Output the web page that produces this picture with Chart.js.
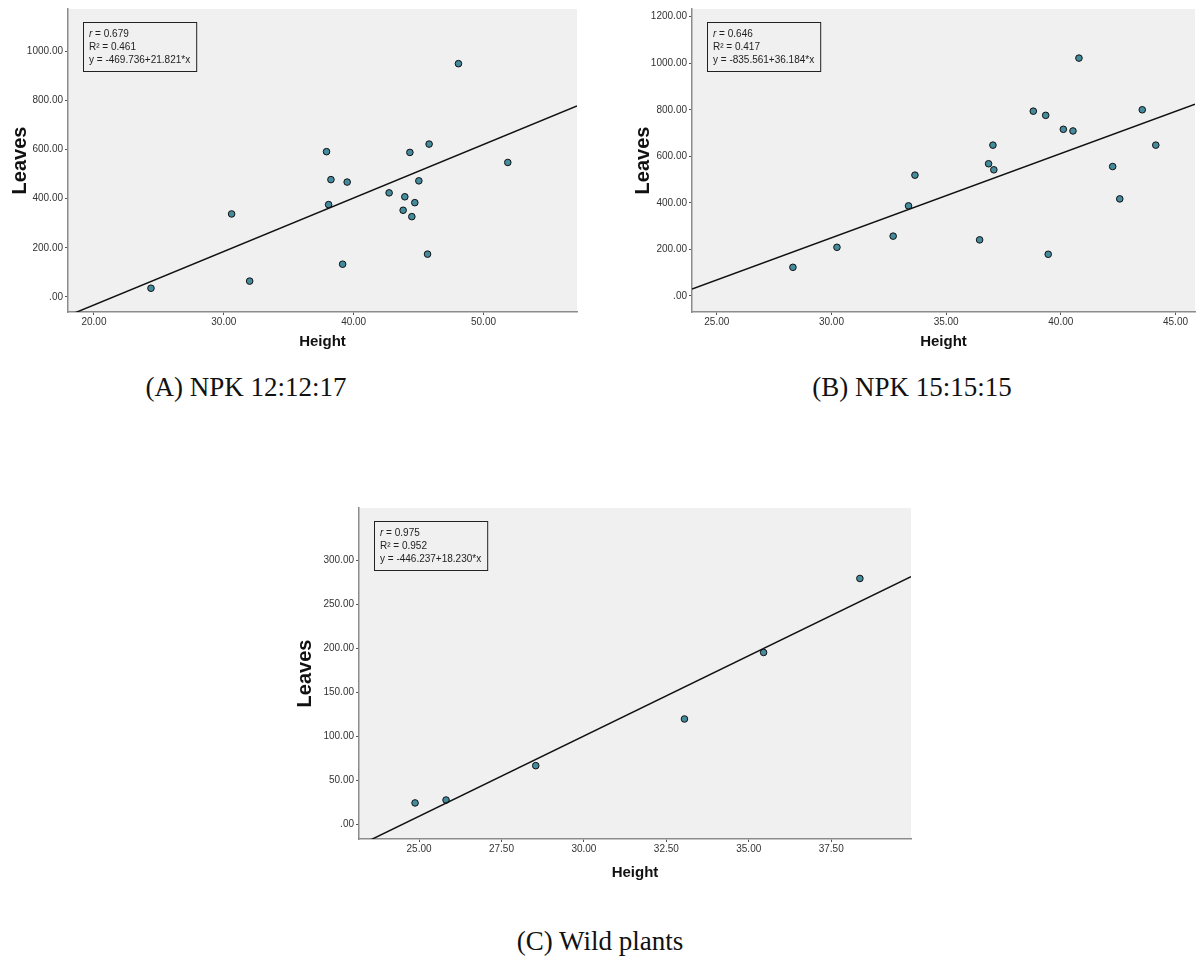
<!DOCTYPE html>
<html>
<head>
<meta charset="utf-8">
<script src="https://cdn.jsdelivr.net/npm/chart.js@4.4.1/dist/chart.umd.min.js"></script>
<style>
  body { margin: 0; background: #fff; width: 1200px; height: 963px; position: relative; overflow: hidden; }
  canvas { position: absolute; }
  .caption { position: absolute; width: 400px; text-align: center; font-family: "Liberation Serif", "DejaVu Serif", serif; font-size: 27px; line-height: 30px; color: #111; }
</style>
</head>
<body>
<canvas id="chartA" width="600" height="360" style="left:0px;top:0px;width:600px;height:360px"></canvas>
<canvas id="chartB" width="600" height="360" style="left:600px;top:0px;width:600px;height:360px"></canvas>
<canvas id="chartC" width="640" height="387" style="left:280px;top:500px;width:640px;height:387px"></canvas>
<div class="caption" style="left:46px;top:372px">(A) NPK 12:12:17</div>
<div class="caption" style="left:712px;top:372px">(B) NPK 15:15:15</div>
<div class="caption" style="left:400px;top:926px">(C) Wild plants</div>
<script>
// (A) NPK 12:12:17
const heightA = [24.39, 30.6, 31.99, 37.91, 38.07, 38.25, 39.15, 39.5, 42.73, 43.81, 43.94, 44.33, 44.48, 44.71, 45.02, 45.69, 45.81, 48.07, 51.87];
const leavesA = [35, 338, 64, 592, 376, 478, 133, 468, 424, 353, 408, 589, 327, 384, 473, 174, 623, 951, 548];
const xTicksA = [20, 30, 40, 50];
const yTicksA = [0, 200, 400, 600, 800, 1000];
const fitA = [-469.736, 21.821];
const statsA = ['0.679', '0.461', 'y = -469.736+21.821*x'];

// (B) NPK 15:15:15
const heightB = [28.32, 30.24, 32.69, 33.36, 33.64, 36.46, 36.85, 37.04, 37.08, 38.8, 39.34, 39.45, 40.11, 40.53, 40.79, 42.26, 42.57, 43.55, 44.14];
const leavesB = [123, 209, 257, 387, 519, 241, 568, 648, 542, 794, 776, 179, 716, 709, 1022, 556, 417, 800, 648];
const xTicksB = [25, 30, 35, 40, 45];
const yTicksB = [0, 200, 400, 600, 800, 1000, 1200];
const fitB = [-835.561, 36.184];
const statsB = ['0.646', '0.417', 'y = -835.561+36.184*x'];

// (C) Wild plants
const heightC = [24.88, 25.82, 28.54, 33.05, 35.45, 38.37];
const leavesC = [24.7, 28, 67, 120, 195.5, 279.5];
const xTicksC = [25, 27.5, 30, 32.5, 35, 37.5];
const yTicksC = [0, 50, 100, 150, 200, 250, 300];
const fitC = [-446.237, 18.230];
const statsC = ['0.975', '0.952', 'y = -446.237+18.230*x'];

const tickFont = { family: 'Liberation Sans, Arial, sans-serif', size: 10 };

const fmt = v => (v === 0 ? '.00' : Number(v).toFixed(2));

// grey plot background
const plotBg = {
  id: 'plotBg',
  beforeDraw(chart) {
    const { ctx, chartArea: a } = chart;
    ctx.save();
    ctx.fillStyle = '#f0f0f0';
    ctx.fillRect(a.left, a.top, a.right - a.left, a.bottom - a.top);
    ctx.restore();
  }
};

// r / R² / equation box in the top left corner
const fitBox = {
  id: 'fitBox',
  afterDatasetsDraw(chart, args, opts) {
    const { ctx, chartArea: a } = chart;
    const x0 = a.left + 15, y0 = a.top + 13;
    ctx.save();
    ctx.font = '10px "Liberation Sans", Arial, sans-serif';
    const w = Math.max(ctx.measureText('R² = ' + opts.r2).width, ctx.measureText(opts.eq).width) + 12;
    ctx.strokeStyle = '#222';
    ctx.lineWidth = 1;
    ctx.strokeRect(x0 + 0.5, y0 + 0.5, w, 49);
    ctx.fillStyle = '#222';
    ctx.textBaseline = 'middle';
    ctx.font = 'italic 10px "Liberation Sans", Arial, sans-serif';
    ctx.fillText('r', x0 + 6, y0 + 12);
    const rw = ctx.measureText('r').width;
    ctx.font = '10px "Liberation Sans", Arial, sans-serif';
    ctx.fillText(' = ' + opts.r, x0 + 6 + rw, y0 + 12);
    ctx.fillText('R² = ' + opts.r2, x0 + 6, y0 + 25);
    ctx.fillText(opts.eq, x0 + 6, y0 + 38);
    ctx.restore();
  }
};

function makePanel(id, p) {
  const pts = p.xs.map((x, i) => ({ x: x, y: p.ys[i] }));
  const line = [p.xMin, p.xMax].map(x => ({ x: x, y: p.fit[0] + p.fit[1] * x }));
  const ctx = document.getElementById(id).getContext('2d');
  return new Chart(ctx, {
    type: 'scatter',
    data: {
      datasets: [
        {
          type: 'line',
          data: line,
          borderColor: '#111',
          borderWidth: 1.5,
          pointRadius: 0,
          fill: false
        },
        {
          data: pts,
          pointRadius: 3.3,
          pointBackgroundColor: '#458b9e',
          pointBorderColor: '#111',
          pointBorderWidth: 1
        }
      ]
    },
    options: {
      responsive: false,
      animation: false,
      events: [],
      layout: { padding: { top: p.padTop, right: p.padRight, left: 0, bottom: 0 } },
      plugins: {
        legend: { display: false },
        tooltip: { enabled: false },
        fitBox: { r: p.stats[0], r2: p.stats[1], eq: p.stats[2] }
      },
      scales: {
        x: {
          type: 'linear',
          min: p.xMin,
          max: p.xMax,
          afterBuildTicks: s => { s.ticks = p.xTicks.map(v => ({ value: v })); },
          afterFit: s => { s.height = 48; },
          grid: { drawOnChartArea: false, drawTicks: true, tickLength: 3, color: '#555' },
          border: { display: true, color: '#8c8c8c', width: 1.5 },
          ticks: { font: tickFont, color: '#333', padding: 1, autoSkip: false, maxRotation: 0, callback: fmt },
          title: {
            display: true,
            text: 'Height',
            color: '#111',
            font: { family: 'Liberation Sans, Arial, sans-serif', size: 15, weight: 'bold' },
            padding: { top: 0, bottom: p.xTitlePad }
          }
        },
        y: {
          type: 'linear',
          min: p.yMin,
          max: p.yMax,
          afterBuildTicks: s => { s.ticks = p.yTicks.map(v => ({ value: v })); },
          afterFit: s => { s.width = p.yWidth; },
          grid: { drawOnChartArea: false, drawTicks: true, tickLength: 3, color: '#555' },
          border: { display: true, color: '#8c8c8c', width: 1.5 },
          ticks: { font: tickFont, color: '#333', padding: 2, autoSkip: false, callback: fmt },
          title: {
            display: true,
            text: 'Leaves',
            color: '#111',
            font: { family: 'Liberation Sans, Arial, sans-serif', size: 20, weight: 'bold' },
            padding: { top: p.yTitlePad, bottom: 0 }
          }
        }
      }
    },
    plugins: [plotBg, fitBox]
  });
}

makePanel('chartA', {
  xs: heightA, ys: leavesA, xTicks: xTicksA, yTicks: yTicksA, fit: fitA, stats: statsA,
  xMin: 18.0, xMax: 57.2, yMin: -62, yMax: 1174,
  padTop: 9, padRight: 23, yWidth: 68, yTitlePad: 8, xTitlePad: 9
});

makePanel('chartB', {
  xs: heightB, ys: leavesB, xTicks: xTicksB, yTicks: yTicksB, fit: fitB, stats: statsB,
  xMin: 23.92, xMax: 45.85, yMin: -69, yMax: 1233,
  padTop: 9, padRight: 0, yWidth: 92, yTitlePad: 31, xTitlePad: 9
});

makePanel('chartC', {
  xs: heightC, ys: leavesC, xTicks: xTicksC, yTicks: yTicksC, fit: fitC, stats: statsC,
  xMin: 23.18, xMax: 39.92, yMin: -16.25, yMax: 359.5,
  padTop: 8, padRight: 9, yWidth: 79, yTitlePad: 13, xTitlePad: 5
});
</script>
</body>
</html>
